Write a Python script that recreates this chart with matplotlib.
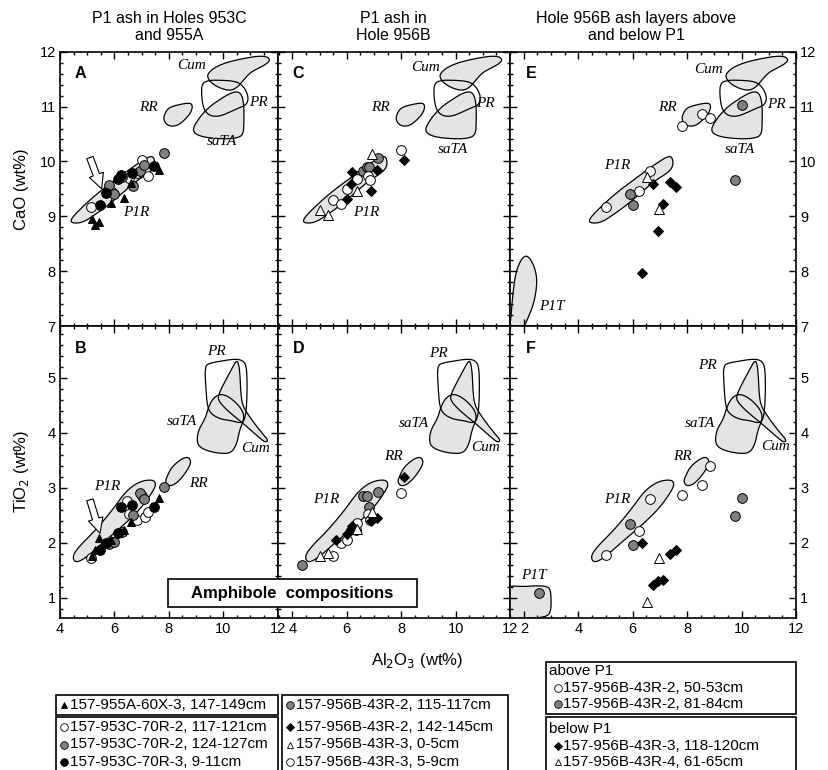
import numpy as np
import matplotlib.pyplot as plt
from matplotlib.patches import Polygon, Rectangle
from matplotlib.ticker import MultipleLocator

plt.rcParams['font.family'] = ['Liberation Sans', 'DejaVu Sans']

GRAY = '#808080'
FIELD = '#e4e4e4'

# ---- reference fields, Al2O3 vs CaO ----
cum_cao = [(9.39, 11.56), (9.55, 11.66), (9.76, 11.73), (10.10, 11.80), (10.50, 11.85),
           (11.00, 11.90), (11.35, 11.92), (11.60, 11.91), (11.72, 11.85), (11.60, 11.78),
           (11.30, 11.70), (10.99, 11.62), (10.74, 11.48), (10.50, 11.34), (10.25, 11.29),
           (9.90, 11.33), (9.55, 11.43)]
pr_cao = [(9.21, 11.43), (9.50, 11.48), (9.85, 11.48), (10.30, 11.47), (10.60, 11.43),
          (10.81, 11.32), (10.93, 11.16), (10.85, 11.03), (10.55, 10.97), (10.20, 10.89),
          (9.85, 10.82), (9.50, 10.83), (9.28, 10.95), (9.20, 11.18)]
sata_cao = [(8.90, 10.60), (8.97, 10.68), (9.20, 10.85), (9.55, 11.02), (9.85, 11.12),
            (10.20, 11.23), (10.50, 11.28), (10.68, 11.22), (10.76, 11.02), (10.76, 10.75),
            (10.74, 10.48), (10.45, 10.42), (10.00, 10.41), (9.45, 10.43), (9.10, 10.47),
            (8.92, 10.53)]
rr_cao = [(7.80, 10.80), (7.90, 10.92), (8.04, 10.99), (8.41, 11.04), (8.78, 11.07),
          (8.88, 11.01), (8.80, 10.88), (8.55, 10.74), (8.30, 10.65), (8.04, 10.64),
          (7.86, 10.70)]
p1r_cao = [(4.37, 8.92), (4.61, 9.07), (5.35, 9.41), (6.08, 9.68), (6.82, 9.95),
           (7.31, 10.10), (7.46, 10.07), (7.49, 9.92), (7.31, 9.80), (6.82, 9.65),
           (6.33, 9.44), (5.84, 9.23), (5.35, 9.05), (4.86, 8.89), (4.49, 8.87)]
p1t_cao = [(1.40, 6.80), (1.52, 7.10), (1.57, 7.47), (1.69, 7.96), (1.88, 8.20),
           (2.06, 8.29), (2.24, 8.23), (2.43, 8.02), (2.49, 7.78), (2.37, 7.41),
           (2.12, 7.11), (1.90, 6.85), (1.80, 6.70)]

# ---- reference fields, Al2O3 vs TiO2 ----
cum_ti = [(10.50, 5.33), (10.58, 5.22), (10.62, 5.00), (10.64, 4.75), (10.70, 4.50),
          (10.95, 4.30), (11.25, 4.10), (11.50, 3.95), (11.65, 3.86), (11.55, 3.82),
          (11.30, 3.92), (11.00, 4.05), (10.70, 4.18), (10.40, 4.30), (10.05, 4.45),
          (9.80, 4.60), (9.85, 4.72), (10.05, 4.92), (10.30, 5.15)]
pr_ti = [(9.32, 5.22), (9.55, 5.27), (9.90, 5.30), (10.40, 5.34), (10.70, 5.32),
         (10.85, 5.22), (10.88, 4.90), (10.86, 4.50), (10.80, 4.25), (10.65, 4.17),
         (10.30, 4.22), (9.95, 4.24), (9.60, 4.32), (9.42, 4.45), (9.36, 4.80)]
sata_ti = [(9.03, 3.87), (9.09, 4.05), (9.34, 4.26), (9.46, 4.47), (9.62, 4.62),
           (9.85, 4.70), (10.10, 4.68), (10.40, 4.58), (10.69, 4.42), (10.78, 4.26),
           (10.60, 4.05), (10.50, 3.80), (10.30, 3.63), (9.90, 3.62), (9.40, 3.67),
           (9.10, 3.75)]
rr_ti = [(7.87, 3.11), (7.93, 3.20), (8.11, 3.38), (8.48, 3.53), (8.72, 3.56),
         (8.82, 3.47), (8.72, 3.35), (8.48, 3.18), (8.20, 3.05), (7.97, 3.03)]
p1r_ti = [(4.45, 1.75), (4.70, 1.93), (5.31, 2.23), (5.92, 2.59), (6.41, 2.93),
          (6.90, 3.11), (7.39, 3.15), (7.53, 3.08), (7.45, 2.96), (7.02, 2.65),
          (6.41, 2.35), (5.55, 1.99), (4.94, 1.72), (4.57, 1.63)]
p1t_ti = [(1.30, 1.22), (2.00, 1.20), (2.50, 1.22), (2.92, 1.20), (3.00, 1.08),
          (3.00, 0.72), (2.74, 0.64), (2.00, 0.62), (1.30, 0.62)]

# ---- amphibole analyses: Al2O3, CaO, TiO2 (wt%) ----
# P1 ash, Holes 953C and 955A
al_955A_60X3 = [5.16, 5.30, 5.45, 5.88, 6.35, 6.60, 7.65]
cao_955A_60X3 = [8.95, 8.85, 8.89, 9.24, 9.34, 9.60, 9.84]
ti_955A_60X3 = [1.76, 1.87, 2.09, 2.05, 2.23, 2.38, 2.81]

al_953C_70R2a = [5.14, 5.90, 6.45, 6.55, 6.84, 7.00, 7.13, 7.25]
cao_953C_70R2a = [9.17, 9.44, 9.74, 9.70, 9.78, 10.02, 9.84, 9.74]
ti_953C_70R2a = [1.72, 2.02, 2.75, 2.53, 2.41, 2.84, 2.47, 2.56]

al_953C_70R2b = [5.80, 6.00, 6.27, 6.67, 6.94, 7.10, 7.84]
cao_953C_70R2b = [9.57, 9.40, 9.71, 9.55, 9.83, 9.94, 10.15]
ti_953C_70R2b = [1.98, 2.02, 2.20, 2.50, 2.90, 2.80, 3.02]

al_953C_70R3 = [5.47, 5.70, 6.14, 6.25, 6.63, 7.45]
cao_953C_70R3 = [9.20, 9.42, 9.68, 9.75, 9.78, 9.91]
ti_953C_70R3 = [1.87, 2.00, 2.17, 2.64, 2.69, 2.64]

# P1 ash, Hole 956B
al_956B_43R2a = [4.34, 6.33, 6.58, 6.73, 6.82, 7.13]
cao_956B_43R2a = [np.nan, 9.74, 9.82, 9.89, 9.90, 10.07]
ti_956B_43R2a = [1.59, 2.23, 2.85, 2.85, 2.65, 2.92]

al_956B_43R2b = [5.60, 6.00, 6.15, 6.19, 6.88, 7.10, 8.10]
cao_956B_43R2b = [np.nan, 9.32, 9.58, 9.81, 9.46, 9.85, 10.03]
ti_956B_43R2b = [2.04, 2.15, 2.24, 2.30, 2.40, 2.45, 3.19]

al_956B_43R3a = [5.02, 5.32, 6.37, 6.92]
cao_956B_43R3a = [9.11, 9.03, 9.46, 10.13]
ti_956B_43R3a = [1.75, 1.81, 2.25, 2.56]

al_956B_43R3b = [5.50, 5.78, 6.00, 6.37, 6.78, 6.85, 8.00]
cao_956B_43R3b = [9.29, 9.23, 9.50, 9.68, 9.74, 9.66, 10.21]
ti_956B_43R3b = [1.76, 1.99, 2.04, 2.36, 2.53, 2.41, 2.91]

# Hole 956B ash layers above P1
al_above_50 = [5.00, 6.22, 6.62, 7.80, 8.55, 8.83]
cao_above_50 = [9.17, 9.46, 9.82, 10.64, 10.87, 10.80]
ti_above_50 = [1.78, 2.22, 2.79, 2.87, 3.04, 3.39]

al_above_81 = [2.55, 5.91, 6.01, 9.77, 10.01]
cao_above_81 = [np.nan, 9.40, 9.21, 9.66, 11.02]
ti_above_81 = [1.08, 2.34, 1.95, 2.49, 2.81]

# Hole 956B ash layers below P1
al_below_118 = [6.34, 6.76, 6.92, 7.11, 7.36, 7.60]
cao_below_118 = [7.97, 9.58, 8.74, 9.23, 9.62, 9.53]
ti_below_118 = [2.00, 1.23, 1.30, 1.33, 1.79, 1.87]

al_below_61 = [6.52, 6.98]
cao_below_61 = [9.71, 9.14]
ti_below_61 = [0.93, 1.73]


def smooth(pts, n=3):
    # closed Chaikin corner cutting for the field outlines
    p = np.asarray(pts, float)
    for _ in range(n):
        nxt = np.roll(p, -1, axis=0)
        q = 0.75 * p + 0.25 * nxt
        r = 0.25 * p + 0.75 * nxt
        p = np.empty((2 * len(p), 2))
        p[0::2] = q
        p[1::2] = r
    return p


def draw_fields(ax, filled, outlined):
    for pts in filled:
        ax.add_patch(Polygon(smooth(pts), closed=True, fc=FIELD, ec='none', zorder=1))
    for pts in filled + outlined:
        ax.add_patch(Polygon(smooth(pts), closed=True, fc='none', ec='k', lw=0.9, zorder=2))


def field_labels(ax, labels):
    for txt, (x, y) in labels.items():
        ax.text(x, y, txt, family='Liberation Serif', style='italic', fontsize=11,
                ha='center', va='center', zorder=2)


def pts(ax, x, y, marker, fc, ms=7):
    ax.plot(x, y, ls='none', marker=marker, mfc=fc, mec='k', mew=0.7, ms=ms, zorder=3)


fig = plt.figure(figsize=(8.29, 7.7), dpi=100)
W, H = 829, 770


def px_axes(x0, y0, x1, y1):
    return fig.add_axes([x0 / W, 1 - y1 / H, (x1 - x0) / W, (y1 - y0) / H])


top, mid, bot = 51.7, 326, 618
axA = px_axes(60, top, 277.7, mid)
axC = px_axes(277.7, top, 510, mid)
axE = px_axes(510, top, 796, mid)
axB = px_axes(60, mid, 277.7, bot)
axD = px_axes(277.7, mid, 510, bot)
axF = px_axes(510, mid, 796, bot)

for ax, xl in [(axA, (4, 12)), (axC, (3.46, 12)), (axE, (1.49, 12)),
               (axB, (4, 12)), (axD, (3.46, 12)), (axF, (1.49, 12))]:
    ax.set_xlim(*xl)
    ax.xaxis.set_major_locator(MultipleLocator(2))
    ax.xaxis.set_minor_locator(MultipleLocator(0.5))
    ax.yaxis.set_major_locator(MultipleLocator(1))
    ax.yaxis.set_minor_locator(MultipleLocator(0.2))
    ax.tick_params(which='both', direction='in', top=True, right=True, width=1,
                   labelsize=10.5, pad=3, labelleft=False, labelbottom=False)
    ax.tick_params(which='major', length=5)
    ax.tick_params(which='minor', length=2.5)
    for s in ax.spines.values():
        s.set_linewidth(1.2)

for ax in (axA, axC, axE):
    ax.set_ylim(7, 12)
for ax in (axB, axD, axF):
    ax.set_ylim(0.63, 5.94)
    ax.tick_params(labelbottom=True)
axA.tick_params(labelleft=True)
axB.tick_params(labelleft=True)
axE.tick_params(labelright=True)
axF.tick_params(labelright=True)

# fields
for ax in (axA, axC):
    draw_fields(ax, [cum_cao, sata_cao, rr_cao, p1r_cao], [pr_cao])
draw_fields(axE, [cum_cao, sata_cao, rr_cao, p1r_cao, p1t_cao], [pr_cao])
for ax in (axB, axD):
    draw_fields(ax, [sata_ti, cum_ti, rr_ti, p1r_ti], [pr_ti])
draw_fields(axF, [sata_ti, cum_ti, rr_ti, p1r_ti, p1t_ti], [pr_ti])

field_labels(axA, {'Cum': (8.84, 11.74), 'RR': (7.25, 10.98), 'PR': (11.29, 11.07),
                   'saTA': (9.94, 10.36), 'P1R': (6.82, 9.07)})
field_labels(axC, {'Cum': (8.90, 11.71), 'RR': (7.25, 10.98), 'PR': (11.10, 11.05),
                   'saTA': (9.91, 10.22), 'P1R': (6.70, 9.07)})
field_labels(axE, {'Cum': (8.79, 11.68), 'RR': (7.26, 10.98), 'PR': (11.30, 11.04),
                   'saTA': (9.95, 10.22), 'P1R': (5.43, 9.92), 'P1T': (3.04, 7.35)})
field_labels(axB, {'PR': (9.76, 5.47), 'saTA': (8.47, 4.20), 'Cum': (11.17, 3.72),
                   'RR': (9.09, 3.08), 'P1R': (5.72, 3.02)})
field_labels(axD, {'PR': (9.38, 5.44), 'saTA': (8.47, 4.17), 'Cum': (11.10, 3.73),
                   'RR': (7.73, 3.56), 'P1R': (5.23, 2.78)})
field_labels(axF, {'PR': (8.75, 5.23), 'saTA': (8.48, 4.17), 'Cum': (11.24, 3.75),
                   'RR': (7.84, 3.56), 'P1R': (5.43, 2.78), 'P1T': (2.37, 1.41)})

# P1 ash, Holes 953C and 955A
pts(axA, al_953C_70R2a, cao_953C_70R2a, 'o', 'w')
pts(axA, al_953C_70R2b, cao_953C_70R2b, 'o', GRAY)
pts(axA, al_953C_70R3, cao_953C_70R3, 'o', 'k')
pts(axA, al_955A_60X3, cao_955A_60X3, '^', 'k', ms=6)
pts(axB, al_953C_70R2a, ti_953C_70R2a, 'o', 'w')
pts(axB, al_953C_70R2b, ti_953C_70R2b, 'o', GRAY)
pts(axB, al_953C_70R3, ti_953C_70R3, 'o', 'k')
pts(axB, al_955A_60X3, ti_955A_60X3, '^', 'k', ms=6)

# P1 ash, Hole 956B
for ax, ys in [(axC, (cao_956B_43R2a, cao_956B_43R2b, cao_956B_43R3a, cao_956B_43R3b)),
               (axD, (ti_956B_43R2a, ti_956B_43R2b, ti_956B_43R3a, ti_956B_43R3b))]:
    pts(ax, al_956B_43R2a, ys[0], 'o', GRAY)
    pts(ax, al_956B_43R3b, ys[3], 'o', 'w')
    pts(ax, al_956B_43R2b, ys[1], 'D', 'k', ms=5.5)
    pts(ax, al_956B_43R3a, ys[2], '^', 'w', ms=6.5)

# Hole 956B above and below P1
for ax, ys in [(axE, (cao_above_50, cao_above_81, cao_below_118, cao_below_61)),
               (axF, (ti_above_50, ti_above_81, ti_below_118, ti_below_61))]:
    pts(ax, al_above_50, ys[0], 'o', 'w')
    pts(ax, al_above_81, ys[1], 'o', GRAY)
    pts(ax, al_below_118, ys[2], 'D', 'k', ms=5.5)
    pts(ax, al_below_61, ys[3], '^', 'w', ms=6.5)

# hollow arrows
arrow = dict(arrowstyle='simple,head_width=0.9,head_length=0.9,tail_width=0.4',
             fc='w', ec='k', lw=0.8, shrinkA=0, shrinkB=0, mutation_scale=12)
axA.annotate('', xy=(5.53, 9.50), xytext=(5.10, 10.07), arrowprops=arrow, zorder=4)
axB.annotate('', xy=(5.47, 2.17), xytext=(5.10, 2.78), arrowprops=arrow, zorder=4)

for ax, letter in zip((axA, axC, axE, axB, axD, axF), 'ACEBDF'):
    ax.annotate(letter, xy=(0, 1), xycoords='axes fraction', xytext=(15, -16),
                textcoords='offset points', fontsize=11.5, fontweight='bold',
                ha='center', va='center')

# column headings and axis titles
fig.text(169 / W, 1 - 27 / H, 'P1 ash in Holes 953C\nand 955A', ha='center', va='center',
         fontsize=11.5, linespacing=1.15)
fig.text(393 / W, 1 - 27 / H, 'P1 ash in\nHole 956B', ha='center', va='center',
         fontsize=11.5, linespacing=1.15)
fig.text(636 / W, 1 - 27 / H, 'Hole 956B ash layers above\nand below P1', ha='center',
         va='center', fontsize=11.5, linespacing=1.15)
fig.text(22 / W, 1 - 189 / H, 'CaO (wt%)', rotation=90, ha='center', va='center', fontsize=12)
fig.text(22 / W, 1 - 472 / H, 'TiO$_2$ (wt%)', rotation=90, ha='center', va='center',
         fontsize=12)
fig.text(417 / W, 1 - 661 / H, 'Al$_2$O$_3$ (wt%)', ha='center', va='center', fontsize=12)

# overlay in pixel units for the caption box and the sample keys
lg = fig.add_axes([0, 0, 1, 1])
lg.set_xlim(0, W)
lg.set_ylim(H, 0)
lg.axis('off')

lg.add_patch(Rectangle((168.3, 579.3), 248.4, 28, fc='w', ec='k', lw=1.2))
lg.text(292.5, 593.5, 'Amphibole  compositions', ha='center', va='center',
        fontsize=12, fontweight='bold')


def key_box(x0, y0, x1, y1, rows, title=None, title_y=None, mx=8, tx=14):
    lg.add_patch(Rectangle((x0, y0), x1 - x0, y1 - y0, fc='w', ec='k', lw=1.2,
                           clip_on=False))
    if title:
        lg.text(x0 + 3, title_y, title, ha='left', va='center', fontsize=11)
    for y, marker, fc, txt in rows:
        ms = 4.5 if marker in ('^', 'D') else 5.5
        lg.plot([x0 + mx], [y], marker=marker, mfc=fc, mec='k', mew=0.6, ms=ms, ls='none')
        lg.text(x0 + tx, y, txt, ha='left', va='center', fontsize=11)


key_box(56, 695, 278, 715, [(705, '^', 'k', '157-955A-60X-3, 147-149cm')])
key_box(56, 717, 278, 790, [(727, 'o', 'w', '157-953C-70R-2, 117-121cm'),
                            (744.5, 'o', GRAY, '157-953C-70R-2, 124-127cm'),
                            (762, 'o', 'k', '157-953C-70R-3, 9-11cm')])
key_box(282, 695, 508, 790, [(705, 'o', GRAY, '157-956B-43R-2, 115-117cm'),
                             (727, 'D', 'k', '157-956B-43R-2, 142-145cm'),
                             (744.5, '^', 'w', '157-956B-43R-3, 0-5cm'),
                             (762, 'o', 'w', '157-956B-43R-3, 5-9cm')])
key_box(546, 662, 796, 714, [(688, 'o', 'w', '157-956B-43R-2, 50-53cm'),
                             (704, 'o', GRAY, '157-956B-43R-2, 81-84cm')],
        title='above P1', title_y=671, mx=12, tx=17)
key_box(546, 717, 796, 790, [(745.5, 'D', 'k', '157-956B-43R-3, 118-120cm'),
                             (762, '^', 'w', '157-956B-43R-4, 61-65cm')],
        title='below P1', title_y=729, mx=12, tx=17)

fig.savefig('out.png', dpi=100)
